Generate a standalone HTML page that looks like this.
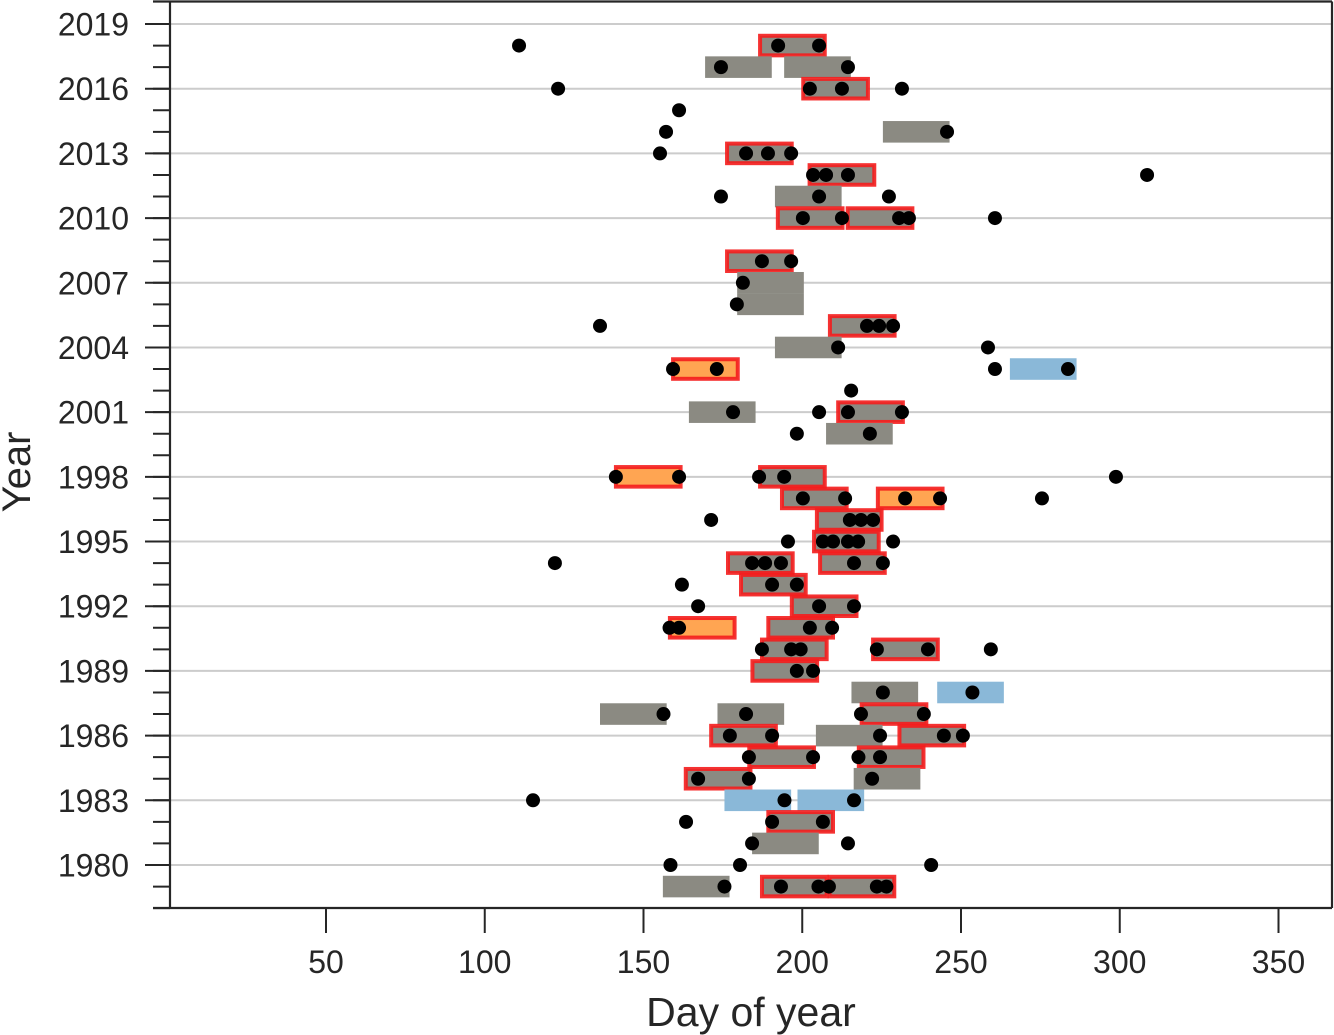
<!DOCTYPE html>
<html><head><meta charset="utf-8"><style>
html,body{margin:0;padding:0;background:#fff}
svg{display:block}
text{font-family:"Liberation Sans",Arial,sans-serif;fill:#262626}
</style></head>
<body>
<svg id="chart" width="1334" height="1035" viewBox="0 0 1334 1035" xmlns="http://www.w3.org/2000/svg">
<g id="grid"></g>
<g id="boxes"></g>
<g id="dots"></g>
<g id="axes"></g>
<text x="751" y="1026" font-size="41" text-anchor="middle">Day of year</text>
<text x="0" y="0" font-size="40" text-anchor="middle" transform="translate(30,472) rotate(-90)">Year</text>
</svg>
<script>
const boxYears = [2018,2017,2017,2016,2014,2013,2012,2011,2010,2010,2008,2007,2006,2005,2004,2003,2003,2001,2001,2000,1998,1998,1997,1997,1996,1995,1994,1994,1993,1992,1991,1991,1990,1990,1989,1988,1988,1987,1987,1987,1986,1986,1986,1985,1985,1984,1984,1983,1983,1982,1981,1979,1979,1979];
const boxStarts = [186.4,169.4,194.3,200,225.4,176,202,191.4,192,214,176,179.5,179.5,208.4,191.4,159,265.4,164.3,211,207.5,141,186.4,193.3,223.5,204.3,203.4,176.3,205.3,180.4,196.4,158,189,187,222,184,215.5,242.5,136.3,173.3,218.4,171,204.3,230.3,183,217.5,163,216.2,175.5,198.5,189,184.2,156.1,187,208.3];
const boxTypes = ['r','g','g','r','g','r','r','g','r','r','r','g','g','r','g','o','b','g','r','g','o','r','r','o','r','r','r','r','r','r','o','r','r','r','r','g','b','g','g','r','r','g','r','r','r','r','g','b','b','r','g','g','r','r'];
const boxWidthDays = 21;
const dotYears = [2018,2018,2018,2017,2017,2016,2016,2016,2016,2015,2014,2014,2013,2013,2013,2013,2012,2012,2012,2012,2011,2011,2011,2010,2010,2010,2010,2010,2008,2008,2007,2006,2005,2005,2005,2005,2004,2004,2003,2003,2003,2003,2002,2001,2001,2001,2001,2000,2000,1998,1998,1998,1998,1998,1997,1997,1997,1997,1997,1996,1996,1996,1996,1995,1995,1995,1995,1995,1995,1994,1994,1994,1994,1994,1994,1993,1993,1993,1992,1992,1992,1991,1991,1991,1991,1990,1990,1990,1990,1990,1990,1989,1989,1988,1988,1987,1987,1987,1987,1986,1986,1986,1986,1986,1985,1985,1985,1985,1984,1984,1984,1983,1983,1983,1982,1982,1982,1981,1981,1980,1980,1980,1979,1979,1979,1979,1979,1979];
const dotDays = [110.8,192.4,205.3,174.4,214.4,123.1,202.4,212.5,231.4,161.2,157.1,245.6,155.2,182.3,189.2,196.5,203.4,207.5,214.4,308.6,174.4,205.3,227.3,200.2,212.5,230.5,233.6,260.7,187.3,196.5,181.3,179.4,136.3,220.4,224.2,228.6,211.3,258.5,159.3,173.1,260.7,283.7,215.4,178.2,205.3,214.4,231.4,198.3,221.3,141.3,161.2,186.4,194.3,298.8,200.2,213.5,232.4,243.4,275.5,171.3,215,218.5,222.3,195.5,206.5,209.7,214.4,217.6,228.6,122.1,184.2,188.3,193.3,216.3,225.4,162.1,190.5,198.3,167.2,205.3,216.3,158.2,161.2,202.4,209.4,187.3,196.5,199.5,223.5,239.6,259.4,198.3,203.4,225.4,253.6,156.3,182.3,218.5,238.3,177.2,190.5,224.5,244.6,250.6,183.2,203.4,217.7,224.5,167.2,183.2,222,115.2,194.4,216.3,163.4,190.5,206.5,184.2,214.4,158.5,180.4,240.6,175.5,193.3,205.1,208.4,223.5,226.5];
const xTicks = [50,100,150,200,250,300,350];
const yTicks = [1980,1983,1986,1989,1992,1995,1998,2001,2004,2007,2010,2013,2016,2019];
const yMinor = [1978,1979,1980,1981,1982,1983,1984,1985,1986,1987,1988,1989,1990,1991,1992,1993,1994,1995,1996,1997,1998,1999,2000,2001,2002,2003,2004,2005,2006,2007,2008,2009,2010,2011,2012,2013,2014,2015,2016,2017,2018,2019];

const NS='http://www.w3.org/2000/svg';
const L=170,R=1332,T=1.5,B=908;
function xs(d){return 326+(d-50)*3.175;}
function ys(y){return 865-(y-1980)*21.564;}
function mk(tag,attrs,parent){const e=document.createElementNS(NS,tag);for(const k in attrs)e.setAttribute(k,attrs[k]);parent.appendChild(e);return e;}
const grid=document.getElementById('grid'),boxes=document.getElementById('boxes'),dots=document.getElementById('dots'),axes=document.getElementById('axes');
yTicks.forEach(t=>{
  const l=mk('line',{x1:L,x2:R,y1:ys(t),y2:ys(t),stroke:'#cccccc','stroke-width':2},grid);
  
  
});
const fills={g:'#8b8a82',r:'#8b8a82',o:'#ffa552',b:'#8ab8d8'};
boxYears.forEach((yr,i)=>{
  const t=boxTypes[i];
  const x=xs(boxStarts[i]),w=xs(boxStarts[i]+boxWidthDays)-x,h=21.564;
  const a={x:x,y:ys(yr)-h/2,width:w,height:h,fill:fills[t]};
  if(t==='r'||t==='o'){a.stroke='#f41c1c';a['stroke-width']=4;a['stroke-opacity']=0.9;a.x=x+1;a.width=w-2;a.y=ys(yr)-h/2+1;a.height=h-2;}
  const r=mk('rect',a,boxes);
  
  
});
dotYears.forEach((yr,i)=>{
  const c=mk('circle',{cx:xs(dotDays[i]),cy:ys(yr),r:7,fill:'#000'},dots);
  
  
});
mk('line',{x1:L,x2:L,y1:T,y2:B+1,stroke:'#262626','stroke-width':2.2},axes);
mk('line',{x1:153,x2:R,y1:B,y2:B,stroke:'#262626','stroke-width':2.2},axes);
mk('line',{x1:153,x2:R,y1:T,y2:T,stroke:'#262626','stroke-width':2.2},axes);
mk('line',{x1:R,x2:R,y1:T,y2:B,stroke:'#262626','stroke-width':2.2},axes);
yMinor.forEach(t=>{mk('line',{x1:153,x2:L,y1:ys(t),y2:ys(t),stroke:'#262626','stroke-width':2},axes);});
yTicks.forEach(t=>{
  mk('line',{x1:145,x2:L,y1:ys(t),y2:ys(t),stroke:'#262626','stroke-width':2},axes);
  const tx=mk('text',{x:129,y:ys(t)+11.5,'font-size':32,'text-anchor':'end'},axes);
  tx.textContent=t;
  
  
});
xTicks.forEach(t=>{
  mk('line',{x1:xs(t),x2:xs(t),y1:B,y2:B+25,stroke:'#262626','stroke-width':2},axes);
  const tx=mk('text',{x:xs(t),y:973,'font-size':32,'text-anchor':'middle'},axes);
  tx.textContent=t;
  
  
});
</script>
</body></html>
